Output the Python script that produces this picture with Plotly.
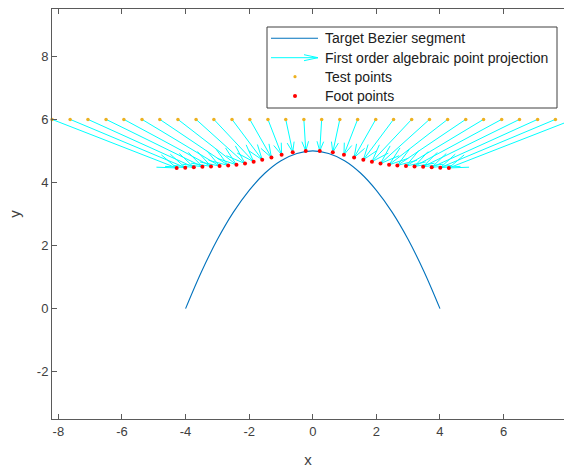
import math
import plotly.graph_objects as go

# ---------------- data ----------------
curve_x = [-4.0, -3.5, -3.0, -2.5, -2.0, -1.5, -1.0, -0.5, 0.0,
           0.5, 1.0, 1.5, 2.0, 2.5, 3.0, 3.5, 4.0]
curve_y = [0.0, 1.17, 2.19, 3.05, 3.75, 4.30, 4.69, 4.92, 5.0,
           4.92, 4.69, 4.30, 3.75, 3.05, 2.19, 1.17, 0.0]

test_x = [-8.20, -7.63, -7.07, -6.50, -5.94, -5.37, -4.81, -4.24, -3.67, -3.11,
          -2.54, -1.98, -1.41, -0.85, -0.28, 0.28, 0.85, 1.41, 1.98, 2.54,
          3.11, 3.67, 4.24, 4.81, 5.37, 5.94, 6.50, 7.07, 7.63, 8.20]
test_y = [6.0, 6.0, 6.0, 6.0, 6.0, 6.0, 6.0, 6.0, 6.0, 6.0,
          6.0, 6.0, 6.0, 6.0, 6.0, 6.0, 6.0, 6.0, 6.0, 6.0,
          6.0, 6.0, 6.0, 6.0, 6.0, 6.0, 6.0, 6.0, 6.0, 6.0]

foot_x = [-4.28, -4.01, -3.74, -3.47, -3.20, -2.93, -2.66, -2.40, -2.13, -1.86,
          -1.59, -1.30, -0.98, -0.63, -0.22, 0.22, 0.63, 0.98, 1.30, 1.59,
          1.86, 2.13, 2.40, 2.66, 2.93, 3.20, 3.47, 3.74, 4.01, 4.28]
foot_y = [4.46, 4.47, 4.48, 4.50, 4.51, 4.52, 4.54, 4.56, 4.60, 4.66,
          4.72, 4.79, 4.88, 4.96, 5.00, 5.00, 4.96, 4.88, 4.79, 4.72,
          4.66, 4.60, 4.56, 4.54, 4.52, 4.51, 4.50, 4.48, 4.47, 4.46]

series_names = ["Target Bezier segment", "First order algebraic point projection",
                "Test points", "Foot points"]
x_ticks = [-8, -6, -4, -2, 0, 2, 4, 6, 8]
y_ticks = [-2, 0, 2, 4, 6, 8]

# ---------------- style ----------------
W, H = 564, 468
ML, MR, MT, MB = 52, 0, 9, 49
ARROW_SCALE = 1.0
HEAD_FRAC = 0.3        # head length relative to arrow length
HEAD_MAX = 0.6         # cap on head length (data units)
HEAD_WID = 0.35        # half-width / head length
FONT = "Liberation Sans, Arial, sans-serif"
AX_COL = "#5a5a5a"
TXT_COL = "#404040"
C_CURVE, C_ARROW, C_TEST, C_FOOT = "#0072BD", "#00FFFF", "#EDB120", "#FF0000"


def px(xp):
    return (xp - ML) / (W - ML - MR)


def py(yp):
    return (H - MB - yp) / (H - MT - MB)


# build quiver polylines from test -> foot vectors
qx, qy = [], []
for x0, y0, x1, y1 in zip(test_x, test_y, foot_x, foot_y):
    u = (x1 - x0) * ARROW_SCALE
    v = (y1 - y0) * ARROW_SCALE
    tx, ty = x0 + u, y0 + v
    L = math.hypot(u, v)
    a = min(HEAD_FRAC, HEAD_MAX / L)
    qx += [x0, tx, None]
    qy += [y0, ty, None]
    qx += [tx - a * (u + HEAD_WID * v), tx, tx - a * (u - HEAD_WID * v), None]
    qy += [ty - a * (v - HEAD_WID * u), ty, ty - a * (v + HEAD_WID * u), None]

fig = go.Figure()
fig.add_trace(go.Scatter(x=curve_x, y=curve_y, mode="lines",
                         line=dict(color=C_CURVE, width=1.1, shape="spline"),
                         name=series_names[0]))
fig.add_trace(go.Scatter(x=qx, y=qy, mode="lines",
                         line=dict(color=C_ARROW, width=1),
                         name=series_names[1]))
fig.add_trace(go.Scatter(x=test_x, y=test_y, mode="markers", cliponaxis=False,
                         marker=dict(color=C_TEST, size=3.5),
                         name=series_names[2]))
fig.add_trace(go.Scatter(x=foot_x, y=foot_y, mode="markers",
                         marker=dict(color=C_FOOT, size=4),
                         name=series_names[3]))

# ---------------- manual MATLAB-style legend ----------------
box = (267, 27, 557, 108)
rows = [38.3, 57.7, 76.7, 96.0]
sym_x0, sym_x1, dot_x, text_x = 271, 318, 295, 323
shapes = [dict(type="rect", xref="paper", yref="paper", layer="above",
               x0=px(box[0]), x1=px(box[2]), y0=py(box[3]), y1=py(box[1]),
               line=dict(color="#404040", width=1), fillcolor="white")]
shapes.append(dict(type="line", xref="paper", yref="paper", layer="above",
                   x0=px(sym_x0), x1=px(sym_x1), y0=py(rows[0]), y1=py(rows[0]),
                   line=dict(color=C_CURVE, width=1.1)))
shapes.append(dict(type="line", xref="paper", yref="paper", layer="above",
                   x0=px(sym_x0), x1=px(sym_x1), y0=py(rows[1]), y1=py(rows[1]),
                   line=dict(color=C_ARROW, width=1)))
shapes.append(dict(type="path", xref="paper", yref="paper", layer="above",
                   path=(f"M {px(sym_x1 - 14)},{py(rows[1] - 3)} L {px(sym_x1)},{py(rows[1])} "
                         f"L {px(sym_x1 - 14)},{py(rows[1] + 3)}"),
                   line=dict(color=C_ARROW, width=1)))
for r, c, rad in [(rows[2], C_TEST, 1.6), (rows[3], C_FOOT, 2.0)]:
    shapes.append(dict(type="circle", xref="paper", yref="paper", layer="above",
                       x0=px(dot_x - rad), x1=px(dot_x + rad),
                       y0=py(r + rad), y1=py(r - rad),
                       line=dict(width=0), fillcolor=c))
annotations = [dict(text=name, xref="paper", yref="paper", x=px(text_x), y=py(r),
                    xanchor="left", yanchor="middle", showarrow=False,
                    font=dict(family=FONT, size=14, color="#202020"))
               for name, r in zip(series_names, rows)]

fig.update_layout(
    width=W, height=H,
    margin=dict(l=ML, r=MR, t=MT, b=MB),
    paper_bgcolor="white", plot_bgcolor="white",
    font=dict(family=FONT, size=13, color=TXT_COL),
    showlegend=False,
    shapes=shapes, annotations=annotations,
)
fig.update_xaxes(range=[-8.2, 7.9], tickvals=x_ticks, ticktext=[str(t) for t in x_ticks],
                 showgrid=False, zeroline=False, showline=True, linecolor=AX_COL,
                 linewidth=1, mirror="ticks", ticks="inside", ticklen=5,
                 tickcolor=AX_COL, tickfont=dict(size=13, color=TXT_COL),
                 title=dict(text="x", font=dict(size=15, color=TXT_COL), standoff=17))
fig.update_yaxes(range=[-3.5, 9.5], tickvals=y_ticks, ticktext=[str(t) for t in y_ticks],
                 showgrid=False, zeroline=False, showline=True, linecolor=AX_COL,
                 linewidth=1, mirror=False, ticks="inside", ticklen=5,
                 tickcolor=AX_COL, tickfont=dict(size=13, color=TXT_COL),
                 title=dict(text="y", font=dict(size=15, color=TXT_COL), standoff=12))

fig.write_html("out.html")
